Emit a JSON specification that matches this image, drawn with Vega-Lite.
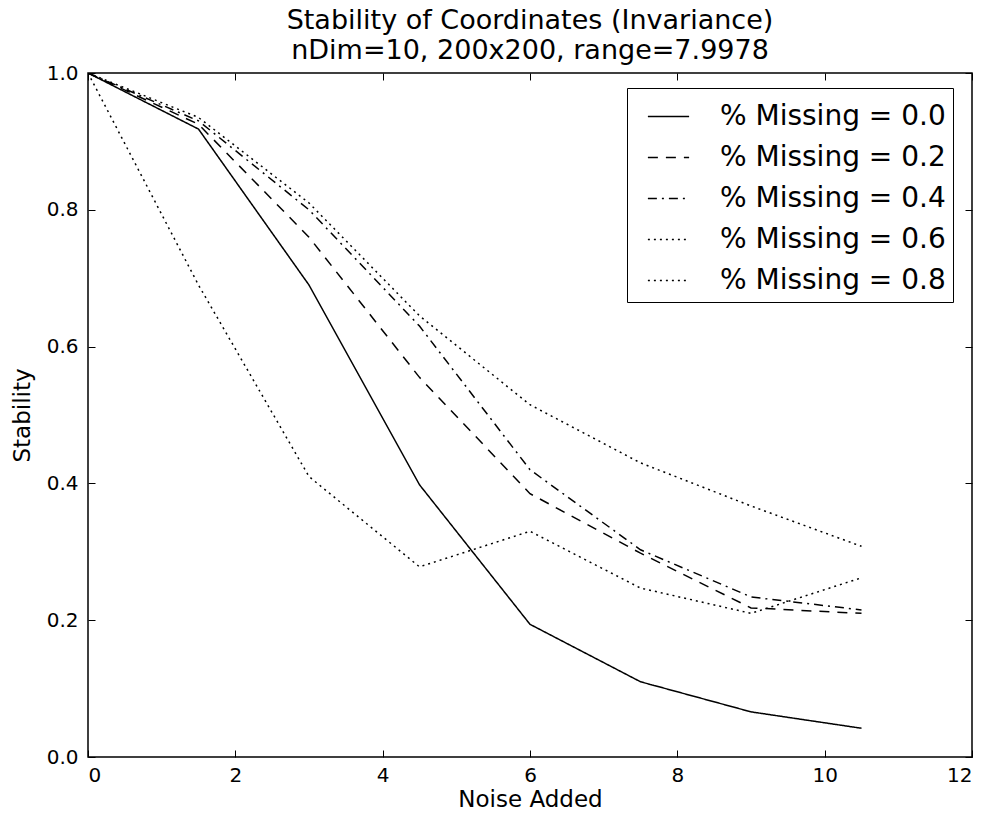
{
  "$schema": "https://vega.github.io/schema/vega-lite/v6.json",
  "autosize": "none",
  "width": 884,
  "height": 684,
  "padding": {"left": 88, "top": 73, "right": 15, "bottom": 56},
  "background": "white",
  "config": {
    "font": "DejaVu Sans",
    "view": {"stroke": "black", "strokeWidth": 1.5},
    "axis": {"grid": false, "domain": false, "tickColor": "black", "tickSize": -7, "tickWidth": 1, "labelColor": "black", "titleColor": "black", "labelFontSize": 20, "titleFontSize": 23, "titleFontWeight": "normal", "labelFont": "DejaVu Sans", "titleFont": "DejaVu Sans"}
  },
  "title": {
    "text": ["Stability of Coordinates (Invariance)", "nDim=10, 200x200, range=7.9978"],
    "fontSize": 27,
    "fontWeight": "normal",
    "font": "DejaVu Sans",
    "color": "black",
    "lineHeight": 30,
    "offset": -2,
    "anchor": "middle",
    "frame": "group"
  },
  "data": {
    "values": [
      {"noise": 0, "missing": "0.0", "stability": 1.0},
      {"noise": 1.5, "missing": "0.0", "stability": 0.918},
      {"noise": 3, "missing": "0.0", "stability": 0.69},
      {"noise": 4.5, "missing": "0.0", "stability": 0.398},
      {"noise": 6, "missing": "0.0", "stability": 0.194},
      {"noise": 7.5, "missing": "0.0", "stability": 0.11},
      {"noise": 9, "missing": "0.0", "stability": 0.066},
      {"noise": 10.5, "missing": "0.0", "stability": 0.042},
      {"noise": 0, "missing": "0.2", "stability": 1.0},
      {"noise": 1.5, "missing": "0.2", "stability": 0.925},
      {"noise": 3, "missing": "0.2", "stability": 0.76},
      {"noise": 4.5, "missing": "0.2", "stability": 0.555},
      {"noise": 6, "missing": "0.2", "stability": 0.385},
      {"noise": 7.5, "missing": "0.2", "stability": 0.298},
      {"noise": 9, "missing": "0.2", "stability": 0.218},
      {"noise": 10.5, "missing": "0.2", "stability": 0.21},
      {"noise": 0, "missing": "0.4", "stability": 1.0},
      {"noise": 1.5, "missing": "0.4", "stability": 0.93},
      {"noise": 3, "missing": "0.4", "stability": 0.8},
      {"noise": 4.5, "missing": "0.4", "stability": 0.63},
      {"noise": 6, "missing": "0.4", "stability": 0.42},
      {"noise": 7.5, "missing": "0.4", "stability": 0.303},
      {"noise": 9, "missing": "0.4", "stability": 0.234},
      {"noise": 10.5, "missing": "0.4", "stability": 0.215},
      {"noise": 0, "missing": "0.6", "stability": 1.0},
      {"noise": 1.5, "missing": "0.6", "stability": 0.935},
      {"noise": 3, "missing": "0.6", "stability": 0.81},
      {"noise": 4.5, "missing": "0.6", "stability": 0.645},
      {"noise": 6, "missing": "0.6", "stability": 0.515},
      {"noise": 7.5, "missing": "0.6", "stability": 0.43},
      {"noise": 9, "missing": "0.6", "stability": 0.367},
      {"noise": 10.5, "missing": "0.6", "stability": 0.308},
      {"noise": 0, "missing": "0.8", "stability": 1.0},
      {"noise": 1.5, "missing": "0.8", "stability": 0.69},
      {"noise": 3, "missing": "0.8", "stability": 0.41},
      {"noise": 4.5, "missing": "0.8", "stability": 0.278},
      {"noise": 6, "missing": "0.8", "stability": 0.33},
      {"noise": 7.5, "missing": "0.8", "stability": 0.247},
      {"noise": 9, "missing": "0.8", "stability": 0.21},
      {"noise": 10.5, "missing": "0.8", "stability": 0.262}
    ]
  },
  "layer": [
    {
      "mark": {"type": "line", "color": "black", "strokeWidth": 1.5, "clip": true},
      "encoding": {
        "x": {"field": "noise", "type": "quantitative", "scale": {"domain": [0, 12], "nice": false, "zero": false}, "axis": {"title": "Noise Added", "values": [0, 2, 4, 6, 8, 10, 12], "format": "d", "labelPadding": 15, "titlePadding": 3}},
        "y": {"field": "stability", "type": "quantitative", "scale": {"domain": [0, 1], "nice": false}, "axis": {"title": "Stability", "values": [0, 0.2, 0.4, 0.6, 0.8, 1.0], "format": ".1f", "labelPadding": 17, "titlePadding": 12}},
        "strokeDash": {
          "field": "missing",
          "type": "nominal",
          "scale": {"domain": ["0.0", "0.2", "0.4", "0.6", "0.8"], "range": [[1, 0], [10, 8], [9, 5, 2, 5], [2, 4], [2, 4]]},
          "legend": {
            "title": null,
            "orient": "none",
            "legendX": 539,
            "legendY": 15,
            "labelExpr": "'% Missing = ' + datum.label",
            "labelFontSize": 28,
            "labelLimit": 500,
            "labelColor": "black",
            "labelFont": "DejaVu Sans",
            "symbolType": "stroke",
            "symbolSize": 1700,
            "symbolStrokeWidth": 1.5,
            "symbolStrokeColor": "black",
            "symbolOffset": 13,
            "labelOffset": 30,
            "rowPadding": 5,
            "strokeColor": "black",
            "padding": 7,
            "fillColor": "white"
          }
        }
      }
    },
    {
      "mark": {"type": "point", "opacity": 0},
      "encoding": {
        "x": {"field": "noise", "type": "quantitative", "scale": {"domain": [0, 12], "nice": false, "zero": false}, "axis": {"orient": "top", "labels": false, "title": null, "values": [0, 2, 4, 6, 8, 10, 12]}},
        "y": {"field": "stability", "type": "quantitative", "scale": {"domain": [0, 1], "nice": false}, "axis": {"orient": "right", "labels": false, "title": null, "values": [0, 0.2, 0.4, 0.6, 0.8, 1.0]}}
      }
    }
  ],
  "resolve": {"axis": {"x": "independent", "y": "independent"}}
}
